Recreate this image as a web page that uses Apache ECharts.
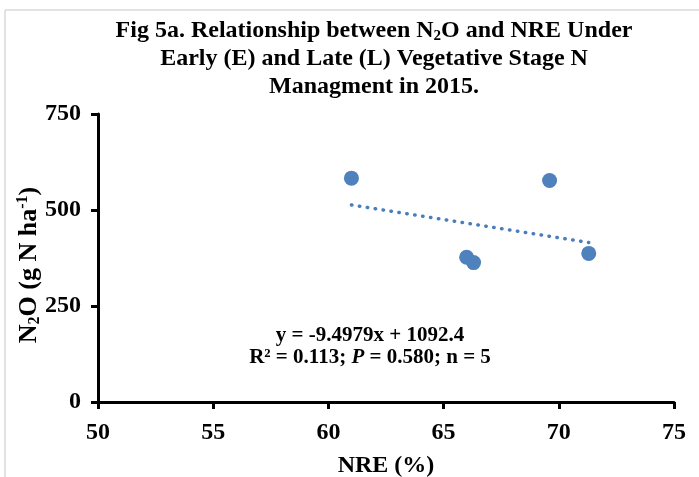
<!DOCTYPE html>
<html>
<head>
<meta charset="utf-8">
<script src="https://cdn.jsdelivr.net/npm/echarts@6/dist/echarts.min.js"></script>
<style>
  html, body { margin: 0; padding: 0; background: #fff; }
  #chart { width: 699px; height: 477px; }
</style>
</head>
<body>
<div id="chart"></div>
<script>
  // NRE (%) vs N2O (g N ha-1)
  var nre = [61.0, 69.6, 66.0, 66.3, 71.3];
  var n2o = [583, 577, 377, 363, 387];
  // linear fit shown on the chart
  var slope = -9.4979;
  var intercept = 1092.4;
  var xTicks = [50, 55, 60, 65, 70, 75];
  var yTicks = [0, 250, 500, 750];

  var serif = '"Liberation Serif", "DejaVu Serif", serif';
  var points = nre.map(function (x, i) { return [x, n2o[i]]; });
  var xMin = Math.min.apply(null, nre);
  var xMax = Math.max.apply(null, nre);
  var trend = [[xMin, slope * xMin + intercept], [xMax, slope * xMax + intercept]];

  var chart = echarts.init(document.getElementById('chart'));
  chart.setOption({
    backgroundColor: '#fff',
    animation: false,
    title: {
      text: '{b|Fig 5a. Relationship between N}{s|2}{b|O and NRE Under}\n{b|Early (E) and Late (L) Vegetative Stage N}\n{b|Managment in 2015.}',
      left: 369,
      top: 12,
      textAlign: 'center',
      textStyle: {
        rich: {
          b: { fontFamily: serif, fontWeight: 'bold', fontSize: 24, color: '#000', lineHeight: 28 },
          s: { fontFamily: serif, fontWeight: 'bold', fontSize: 15, color: '#000', lineHeight: 28, padding: [11, 0, 0, 0] }
        }
      }
    },
    graphic: [
      { type: 'line', shape: { x1: 5, y1: 10, x2: 699, y2: 10 }, style: { stroke: '#d9d9d9', lineWidth: 1.5 } },
      { type: 'line', shape: { x1: 5, y1: 10, x2: 5, y2: 477 }, style: { stroke: '#d9d9d9', lineWidth: 1.5 } },
      {
        // y axis title, rotated
        type: 'text', z: 10,
        x: 29, y: 265, rotation: Math.PI / 2,
        style: {
          text: '{b|N}{s|2}{b|O (g N ha}{p|-1}{b|)}',
          align: 'center', verticalAlign: 'middle',
          rich: {
            b: { fontFamily: serif, fontWeight: 'bold', fontSize: 26, fill: '#000' },
            s: { fontFamily: serif, fontWeight: 'bold', fontSize: 16, fill: '#000', padding: [12, 0, 0, 0] },
            p: { fontFamily: serif, fontWeight: 'bold', fontSize: 16, fill: '#000', padding: [0, 0, 12, 0] }
          }
        }
      },
      {
        type: 'text', z: 10,
        x: 370, y: 347,
        style: {
          text: '{b|y = -9.4979x + 1092.4}\n{b|R² = 0.113; }{i|P}{b| = 0.580; n = 5}',
          align: 'center', verticalAlign: 'middle',
          rich: {
            b: { fontFamily: serif, fontWeight: 'bold', fontSize: 21, fill: '#000', lineHeight: 22 },
            i: { fontFamily: serif, fontWeight: 'bold', fontStyle: 'italic', fontSize: 21, fill: '#000', lineHeight: 22 }
          }
        }
      }
    ],
    grid: { left: 98, right: 25, top: 114, bottom: 75, outerBoundsMode: 'none', containLabel: false },
    xAxis: {
      type: 'value',
      min: 50, max: 75, interval: 5,
      name: 'NRE (%)',
      nameLocation: 'middle',
      nameGap: 52,
      nameTextStyle: { fontFamily: serif, fontWeight: 'bold', fontSize: 24, color: '#000' },
      axisLine: { lineStyle: { color: '#000', width: 3 } },
      axisTick: { show: true, length: 7, lineStyle: { color: '#000', width: 3 } },
      axisLabel: {
        fontFamily: serif, fontWeight: 'bold', fontSize: 24, color: '#000', margin: 19,
        formatter: function (v) { return xTicks.indexOf(v) >= 0 ? String(v) : ''; }
      },
      splitLine: { show: false }
    },
    yAxis: {
      type: 'value',
      min: 0, max: 750, interval: 250,
      axisLine: { show: true, lineStyle: { color: '#000', width: 3 } },
      axisTick: { show: true, length: 7, lineStyle: { color: '#000', width: 3 } },
      axisLabel: {
        fontFamily: serif, fontWeight: 'bold', fontSize: 24, color: '#000', margin: 17,
        formatter: function (v) { return yTicks.indexOf(v) >= 0 ? String(v) : ''; }
      },
      splitLine: { show: false }
    },
    series: [
      {
        type: 'scatter',
        data: points,
        symbolSize: 15,
        itemStyle: { color: '#4f81bd', opacity: 1 },
        z: 3
      },
      {
        type: 'line',
        data: trend,
        showSymbol: false,
        symbol: 'none',
        lineStyle: { color: '#4a7ebb', width: 3.5, type: [0.5, 7.5], cap: 'round' },
        z: 2,
        silent: true
      }
    ]
  });
</script>
</body>
</html>
